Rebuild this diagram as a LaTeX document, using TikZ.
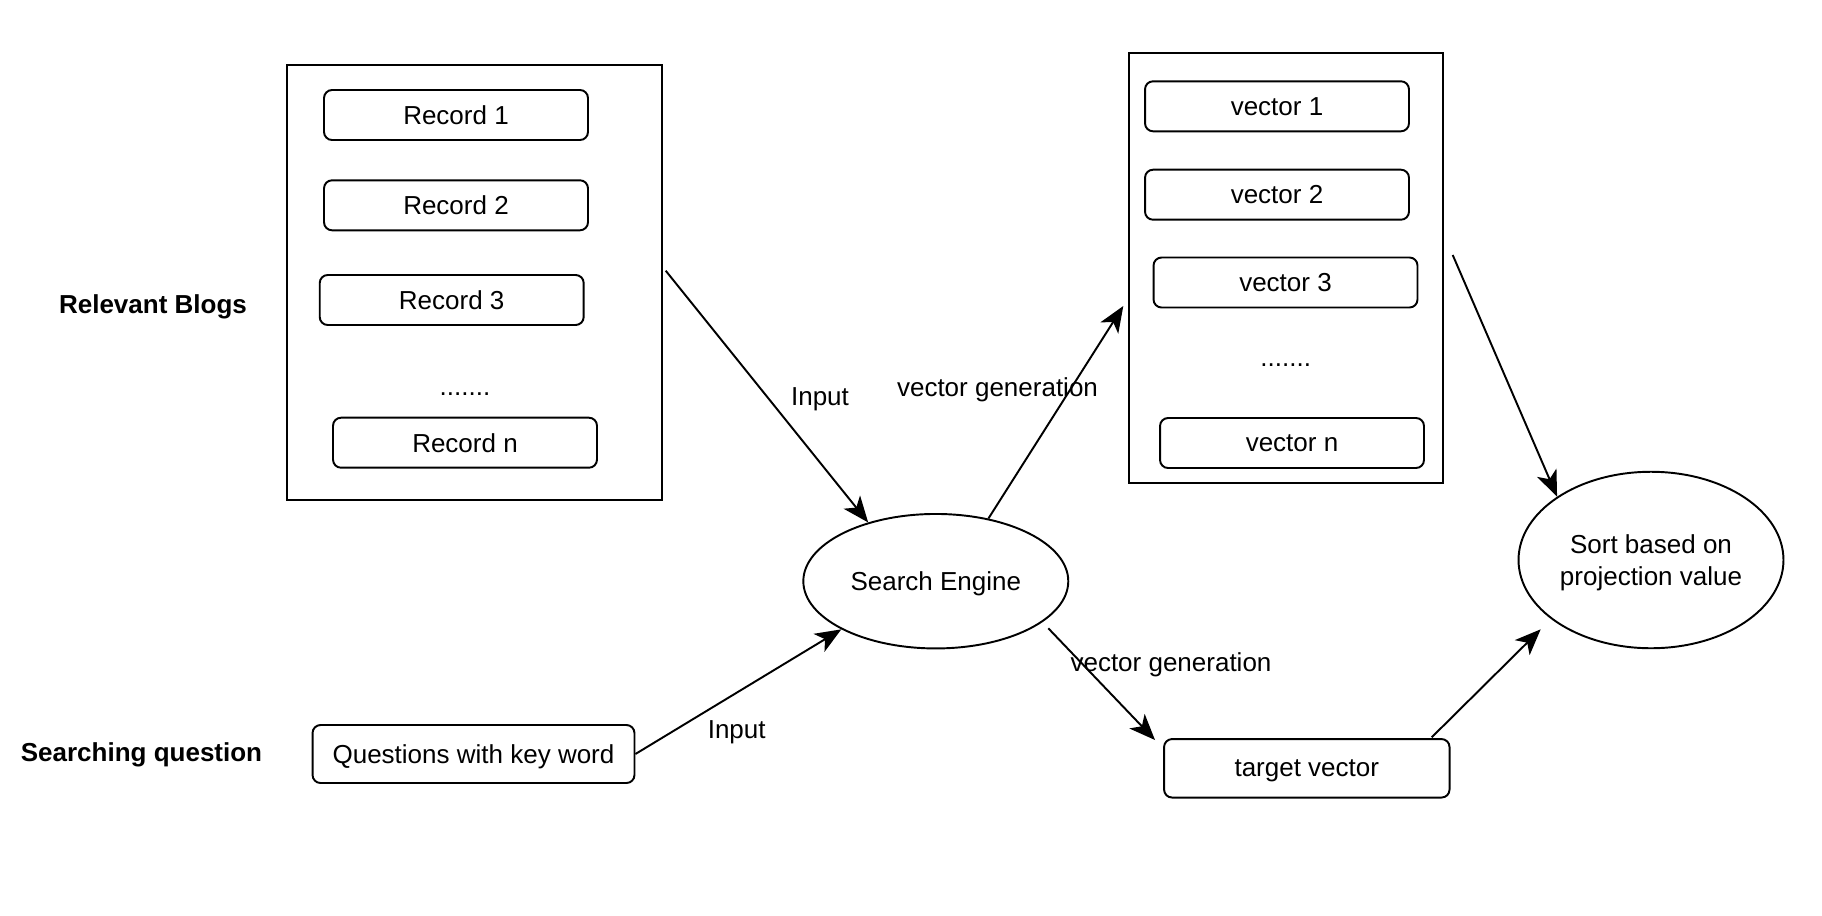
\documentclass[tikz,border=0pt]{standalone}
\usepackage{fontspec}
\setmainfont{Liberation Sans}
\usetikzlibrary{arrows.meta,shapes.geometric}

\tikzset{
    recbox/.style={draw, line width=1.1pt, rounded corners=0.16cm, minimum width=5.28cm, minimum height=1cm, inner sep=0pt, text depth=0pt},
    frame/.style={draw, line width=1.1pt, inner sep=0pt},
    oval/.style={draw, ellipse, line width=1.1pt, inner sep=0pt, minimum width=5.3cm, align=center, text depth=0pt},
    link/.style={line width=1.1pt, -{Stealth[length=0.52cm, width=0.42cm, inset=0.14cm]}},
    heading/.style={anchor=base, font=\fontsize{14.8}{18}\selectfont\bfseries},
}

\begin{document}
\begin{tikzpicture}[x=0.02cm, y=-0.02cm, font=\fontsize{14.8}{18.5}\selectfont]
        \useasboundingbox (0,0) rectangle (1822,916);

        % records
        \node[frame, minimum width=7.5cm, minimum height=8.7cm] (blogs) at (474.2,282.5) {};
        \foreach \i/\x/\y in {1/456/115, 2/456/205.3, 3/451.7/300, n/465/442.7}
            \node[recbox] (rec\i) at (\x,\y) {Record \i};
        \node[anchor=base] (recdots) at (465,395) {.......};

        % vectors
        \node[frame, minimum width=6.27cm, minimum height=8.61cm] (vecs) at (1285.9,268) {};
        \foreach \i/\x/\y in {1/1277/106.3, 2/1277/194.7, 3/1285.5/282.5, n/1292/443}
            \node[recbox] (vec\i) at (\x,\y) {vector \i};
        \node[anchor=base] (vecdots) at (1285.7,366) {.......};

        \node[heading] (blogslbl) at (153,313.3) {Relevant Blogs};
        \node[heading] (questlbl) at (141.5,761) {Searching question};

        \node[recbox, minimum width=6.44cm, minimum height=1.16cm] (quest) at (473.5,754) {Questions with key word};
        \node[oval, minimum height=2.69cm] (engine) at (935.8,581.2) {Search Engine};
        \node[recbox, minimum width=5.71cm, minimum height=1.17cm] (target) at (1306.8,768.3) {target vector};
        \node[oval, minimum height=3.53cm] (sort) at (1651,560) {Sort based on\\projection value};

        \coordinate (blogsout) at (665.7,270.7);
        \coordinate (vecin) at (1123.3,306);
        \coordinate (engout) at (1048.3,628.3);
        \coordinate (targetin) at (1155,740);
        \coordinate (vecsout) at (1452.7,255);
        \coordinate (targetout) at (1431.7,737.3);
        \coordinate (sortin) at (1540.7,629.3);

        \draw[link] (blogsout) -- (engine.139);
        \node (inlbl1) at (820,399.2) {Input};
        \draw[link] (quest.east) -- (engine.207);
        \node (inlbl2) at (736.7,731.8) {Input};
        \draw[link] (engine.50) -- (vecin);
        \node (genlbl1) at (997.5,389.5) {vector generation};
        \draw[link] (engout) -- (targetin);
        \node (genlbl2) at (1171,664.5) {vector generation};
        \draw[link] (vecsout) -- (sort.146);
        \draw[link] (targetout) -- (sortin);
    \end{tikzpicture}
\end{document}
